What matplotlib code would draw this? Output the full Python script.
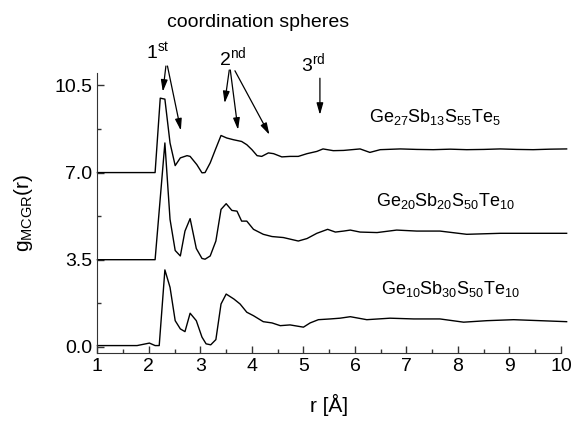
import matplotlib
matplotlib.use("Agg")
import matplotlib.pyplot as plt
from matplotlib.ticker import MultipleLocator, FormatStrFormatter

plt.rcParams['font.family'] = ['Liberation Sans', 'DejaVu Sans']
plt.rcParams['mathtext.default'] = 'regular'

# r values and g(r) curves (already shifted by their offsets 7.0 / 3.5 / 0.0)
r_top = [1.0, 2.12, 2.22, 2.31, 2.41, 2.51, 2.61, 2.74, 2.80, 2.93, 3.03, 3.09, 3.19, 3.29,
         3.40, 3.51, 3.64, 3.80, 3.90, 4.00, 4.10, 4.19, 4.32, 4.42, 4.58, 4.74, 4.90, 5.07,
         5.26, 5.38, 5.58, 5.78, 6.10, 6.29, 6.49, 6.88, 7.20, 7.52, 7.85, 8.17, 8.50, 8.82,
         9.14, 9.46, 9.78, 10.11]
g_top = [7.0, 7.0, 9.99, 9.95, 8.19, 7.28, 7.59, 7.68, 7.65, 7.32, 6.99, 7.0, 7.39, 7.92,
         8.49, 8.39, 8.32, 8.25, 8.12, 7.92, 7.68, 7.65, 7.79, 7.76, 7.63, 7.65, 7.65, 7.76,
         7.85, 7.95, 7.88, 7.89, 7.95, 7.81, 7.92, 7.95, 7.93, 7.92, 7.94, 7.92, 7.93, 7.95,
         7.93, 7.92, 7.94, 7.95]

r_mid = [1.0, 2.12, 2.31, 2.41, 2.51, 2.61, 2.70, 2.80, 2.92, 3.03, 3.09, 3.19, 3.30, 3.40,
         3.50, 3.61, 3.71, 3.80, 3.90, 4.03, 4.22, 4.39, 4.61, 4.90, 5.07, 5.26, 5.47, 5.62,
         5.78, 5.91, 6.10, 6.43, 6.81, 7.20, 7.65, 8.17, 8.82, 9.46, 10.11]
g_mid = [3.5, 3.5, 8.19, 5.12, 3.87, 3.65, 4.65, 5.15, 3.95, 3.55, 3.52, 3.65, 4.25, 5.52,
         5.75, 5.48, 5.45, 5.05, 5.05, 4.72, 4.52, 4.43, 4.39, 4.25, 4.35, 4.56, 4.72, 4.61,
         4.65, 4.69, 4.61, 4.59, 4.69, 4.65, 4.65, 4.52, 4.56, 4.56, 4.56]

r_bot = [1.0, 1.77, 2.01, 2.12, 2.20, 2.31, 2.41, 2.51, 2.61, 2.70, 2.80, 2.92, 3.03, 3.11,
         3.20, 3.30, 3.40, 3.50, 3.65, 3.77, 3.90, 4.03, 4.22, 4.39, 4.55, 4.74, 5.00, 5.13,
         5.29, 5.52, 5.71, 5.91, 6.23, 6.68, 7.14, 7.65, 8.11, 8.56, 9.08, 9.60, 10.11]
g_bot = [0.05, 0.05, 0.15, 0.05, 0.05, 3.09, 2.39, 1.05, 0.72, 0.61, 1.35, 1.05, 0.39, 0.12,
         0.08, 0.29, 1.72, 2.12, 1.92, 1.72, 1.39, 1.25, 1.01, 0.96, 0.85, 0.88, 0.79, 0.96,
         1.09, 1.12, 1.15, 1.21, 1.09, 1.15, 1.12, 1.12, 0.99, 1.05, 1.09, 1.05, 1.01]

labels = [r'Ge$_{27}$Sb$_{13}$S$_{55}$Te$_{5}$',
          r'Ge$_{20}$Sb$_{20}$S$_{50}$Te$_{10}$',
          r'Ge$_{10}$Sb$_{30}$S$_{50}$Te$_{10}$']

fig = plt.figure(figsize=(5.73, 4.22), dpi=100)
ax = fig.add_axes([0.170, 0.164, 0.809, 0.663])

for r, g in [(r_top, g_top), (r_mid, g_mid), (r_bot, g_bot)]:
    ax.plot(r, g, color='black', lw=1.0, clip_on=False)

ax.set_xlim(1, 10)
ax.set_ylim(-0.24, 11.0)
ax.set_xticks(range(1, 11))
ax.set_yticks([0, 3.5, 7.0, 10.5])
ax.yaxis.set_major_formatter(FormatStrFormatter('%.1f'))
ax.xaxis.set_minor_locator(MultipleLocator(0.5))
ax.yaxis.set_minor_locator(MultipleLocator(1.75))
ax.tick_params(which='both', direction='in', labelsize=14, color='#333333', width=1)
ax.tick_params(which='major', length=5)
ax.tick_params(which='minor', length=3)
ax.spines['top'].set_visible(False)
ax.spines['right'].set_visible(False)
ax.spines['left'].set_color('#333333')
ax.spines['bottom'].set_color('#333333')

ax.set_xlabel('r [Å]', fontsize=15, labelpad=14)
ax.set_ylabel(r'g$_{MCGR}$(r)', fontsize=15, labelpad=14)

# composition labels
ax.text(7.56, 9.25, labels[0], fontsize=13, ha='center', va='center')
ax.text(7.75, 5.85, labels[1], fontsize=13, ha='center', va='center')
ax.text(7.85, 2.32, labels[2], fontsize=13, ha='center', va='center')

# coordination spheres annotations
ax.text(4.12, 13.04, 'coordination spheres', fontsize=14, ha='center', va='center', clip_on=False)
ax.text(2.18, 11.84, r'1$^{st}$', fontsize=14, ha='center', va='center', clip_on=False)
ax.text(3.63, 11.64, r'2$^{nd}$', fontsize=14, ha='center', va='center', clip_on=False)
ax.text(5.19, 11.40, r'3$^{rd}$', fontsize=14, ha='center', va='center', clip_on=False)

arrows = [((2.33, 11.28), (2.27, 10.25)),
          ((2.36, 11.28), (2.62, 8.69)),
          ((3.56, 11.12), (3.47, 9.79)),
          ((3.58, 11.12), (3.73, 8.72)),
          ((3.67, 11.09), (4.34, 8.52)),
          ((5.32, 10.79), (5.32, 9.32))]
for start, end in arrows:
    ax.annotate('', xy=end, xytext=start, annotation_clip=False,
                arrowprops=dict(arrowstyle='-|>,head_length=0.7,head_width=0.2',
                                color='black', lw=0.9, shrinkA=0, shrinkB=0))

fig.savefig('out.png', dpi=100)
